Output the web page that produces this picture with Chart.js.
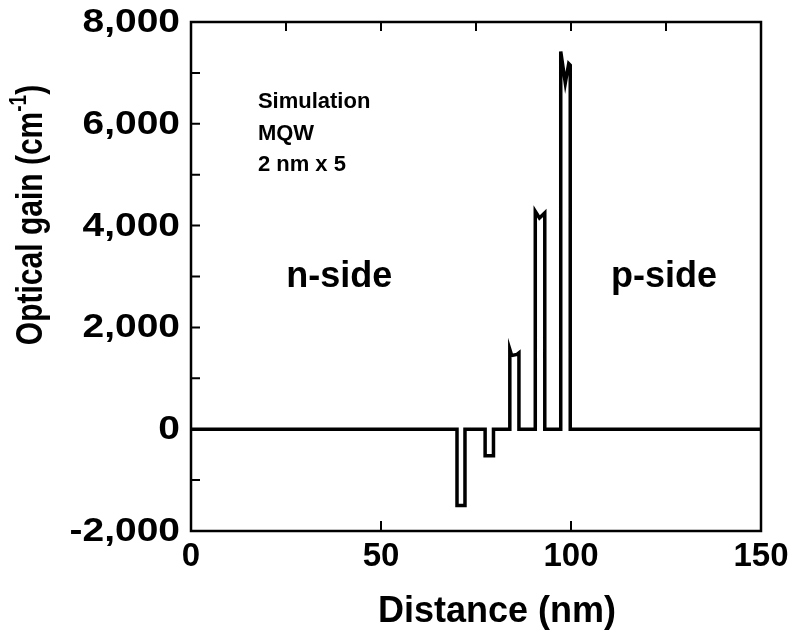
<!DOCTYPE html>
<html>
<head>
<meta charset="utf-8">
<script src="https://cdn.jsdelivr.net/npm/chart.js@4/dist/chart.umd.min.js"></script>
<style>
  html, body { margin: 0; padding: 0; background: #fff; }
  #wrap { width: 796px; height: 634px; }
</style>
</head>
<body>
<div id="wrap"><canvas id="chart" width="796" height="634"></canvas></div>
<script>
// Simulated optical gain across a 5-well MQW structure (2 nm wells)
const distance = [0, 70.0, 70.0, 72.1, 72.1, 77.4, 77.4, 79.6, 79.6,
                  83.9, 83.9, 84.4, 85.8, 86.3, 86.3,
                  90.6, 90.6, 91.7, 93.1, 93.1,
                  97.3, 97.3, 98.5, 99.4, 99.8, 99.8, 150];
const gain = [0, 0, -1500, -1500, 0, 0, -520, -520, 0,
              0, 1570, 1450, 1470, 1500, 0,
              0, 4280, 4150, 4250, 0,
              0, 7420, 6800, 7180, 7150, 0, 0];

const xTicks = [0, 50, 100, 150];
const yTicks = [-2000, 0, 2000, 4000, 6000, 8000];
const yMinorTicks = [-2000, -1000, 0, 1000, 2000, 3000, 4000, 5000, 6000, 7000, 8000];
const xBottomTicks = [50, 100];
const xTopTicks = [25, 50, 75, 100, 125];

const xTitle = 'Distance (nm)';
const yTitle = ['Optical gain (cm', '-1', ')'];
const notes = [
  { x: 17.6, y: 6420, text: 'Simulation', size: 22, align: 'left' },
  { x: 17.6, y: 5800, text: 'MQW', size: 22, align: 'left' },
  { x: 17.6, y: 5190, text: '2 nm x 5', size: 22, align: 'left' },
  { x: 39, y: 2990, text: 'n-side', size: 36, align: 'center' },
  { x: 124.5, y: 2990, text: 'p-side', size: 36, align: 'center' }
];

const FONT = '"Liberation Sans", Arial, Helvetica, sans-serif';

const framePlugin = {
  id: 'frame',
  afterDraw(chart) {
    const ctx = chart.ctx;
    const a = chart.chartArea;
    const xs = chart.scales.x, ys = chart.scales.y;
    ctx.save();
    ctx.strokeStyle = '#000';
    ctx.lineWidth = 2.5;
    ctx.strokeRect(a.left, a.top, a.right - a.left, a.bottom - a.top);

    // inward tick marks
    ctx.lineWidth = 2;
    ctx.beginPath();
    yMinorTicks.forEach(v => {
      const py = ys.getPixelForValue(v);
      ctx.moveTo(a.left, py); ctx.lineTo(a.left + 9, py);
    });
    xBottomTicks.forEach(v => {
      const px = xs.getPixelForValue(v);
      ctx.moveTo(px, a.bottom); ctx.lineTo(px, a.bottom - 10);
    });
    xTopTicks.forEach(v => {
      const px = xs.getPixelForValue(v);
      ctx.moveTo(px, a.top); ctx.lineTo(px, a.top + 9);
    });
    ctx.stroke();

    ctx.fillStyle = '#000';

    // y tick labels, set in a wide bold face
    ctx.font = 'bold 33px ' + FONT;
    ctx.textAlign = 'right';
    ctx.textBaseline = 'middle';
    yTicks.forEach(v => {
      const py = ys.getPixelForValue(v);
      ctx.save();
      ctx.translate(a.left - 11, py + 1);
      ctx.scale(1.18, 1);
      ctx.fillText(v.toLocaleString('en-US'), 0, 0);
      ctx.restore();
    });

    // annotations
    notes.forEach(n => {
      ctx.font = 'bold ' + n.size + 'px ' + FONT;
      ctx.textAlign = n.align;
      ctx.textBaseline = 'middle';
      ctx.fillText(n.text, xs.getPixelForValue(n.x), ys.getPixelForValue(n.y));
    });

    // x axis title
    ctx.font = 'bold 36px ' + FONT;
    ctx.textAlign = 'center';
    ctx.textBaseline = 'middle';
    ctx.fillText(xTitle, (a.left + a.right) / 2 + 21, a.bottom + 81);

    // y axis title with superscript
    const big = 'bold 30px ' + FONT, small = 'bold 19px ' + FONT;
    ctx.font = big;
    const w0 = ctx.measureText(yTitle[0]).width;
    const w2 = ctx.measureText(yTitle[2]).width;
    ctx.font = small;
    const w1 = ctx.measureText(yTitle[1]).width;
    const total = w0 + w1 + w2;
    ctx.translate(32, a.top + 193);
    ctx.rotate(-Math.PI / 2);
    ctx.scale(1, 1.25);
    ctx.textAlign = 'left';
    ctx.textBaseline = 'middle';
    let cx = -total / 2;
    ctx.font = big; ctx.fillText(yTitle[0], cx, 0); cx += w0;
    ctx.font = small; ctx.fillText(yTitle[1], cx, -10); cx += w1;
    ctx.font = big; ctx.fillText(yTitle[2], cx, 0);
    ctx.restore();
  }
};

new Chart(document.getElementById('chart'), {
  type: 'line',
  data: {
    datasets: [{
      data: distance.map((x, i) => ({ x: x, y: gain[i] })),
      borderColor: '#000',
      borderWidth: 3.5,
      borderJoinStyle: 'miter',
      pointRadius: 0,
      tension: 0,
      fill: false
    }]
  },
  options: {
    responsive: false,
    devicePixelRatio: 1,
    animation: false,
    layout: { padding: { left: 0, top: 22, right: 35, bottom: 0 } },
    plugins: { legend: { display: false }, tooltip: { enabled: false } },
    scales: {
      x: {
        type: 'linear', min: 0, max: 150,
        afterBuildTicks: s => { s.ticks = xTicks.map(v => ({ value: v })); },
        afterFit: s => { s.height = 103; s.paddingLeft = 0; s.paddingRight = 0; },
        grid: { display: false, drawTicks: false },
        border: { display: false },
        ticks: {
          color: '#000', padding: 6, maxRotation: 0, autoSkip: false,
          font: { family: FONT, size: 33, weight: 'bold' },
          callback: v => String(v)
        }
      },
      y: {
        type: 'linear', min: -2000, max: 8000,
        afterBuildTicks: s => { s.ticks = yTicks.map(v => ({ value: v })); },
        afterFit: s => { s.width = 191; s.paddingTop = 0; s.paddingBottom = 0; },
        grid: { display: false, drawTicks: false },
        border: { display: false },
        ticks: { display: false }
      }
    }
  },
  plugins: [framePlugin]
});
</script>
</body>
</html>
